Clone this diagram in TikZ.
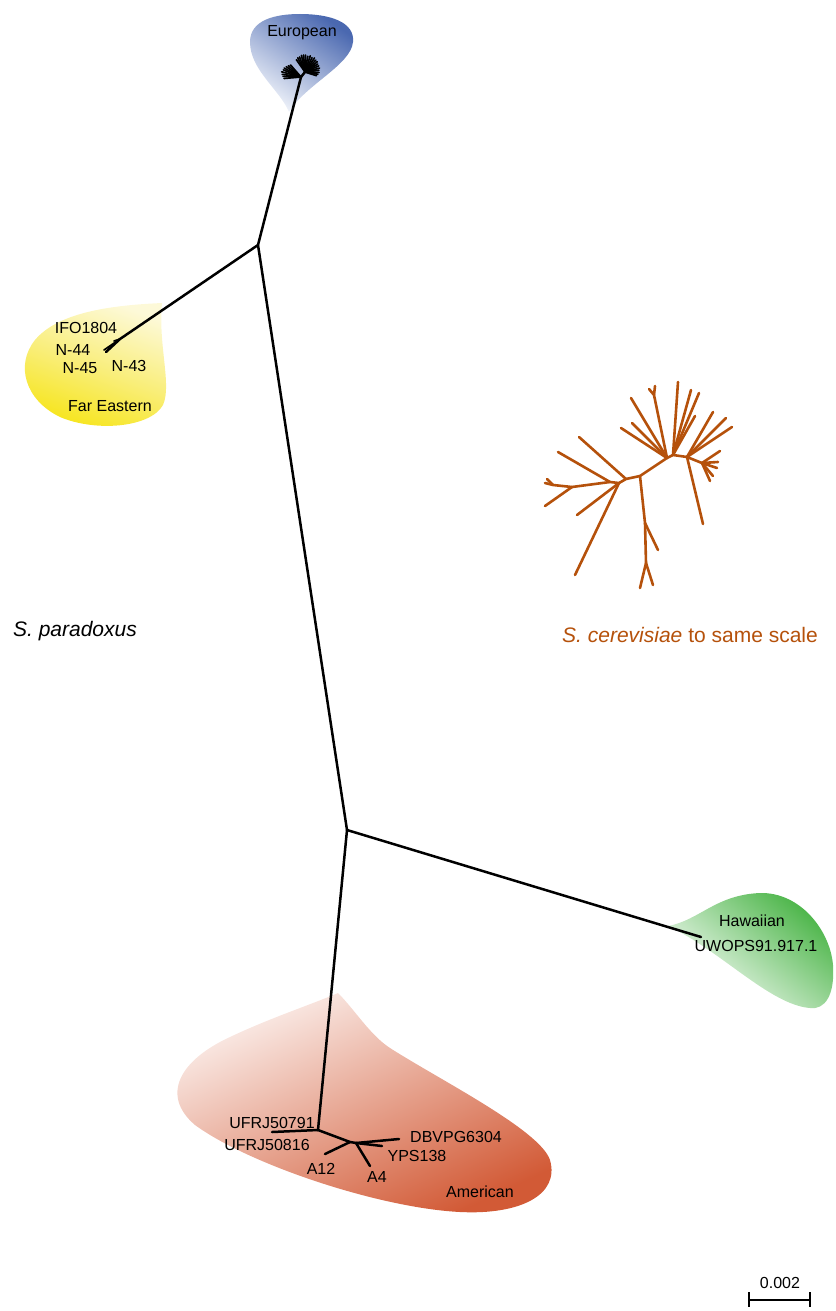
\documentclass[tikz,border=0pt]{standalone}
\usepackage{fontspec}
\setmainfont{Liberation Sans}
\definecolor{eurdark}{HTML}{4A68B0}
\definecolor{eurlight}{HTML}{F2F5FB}
\definecolor{feyellow}{HTML}{F6E412}
\definecolor{femid}{HTML}{F9EE7A}
\definecolor{felight}{HTML}{FDF9D8}
\definecolor{hawgreen}{HTML}{49B446}
\definecolor{amdark}{HTML}{D25A36}
\definecolor{amlight}{HTML}{FCF2EF}
\definecolor{cerorange}{HTML}{B5510B}
\begin{document}
\begin{tikzpicture}[x=1pt,y=-1pt,
  branch/.style={line width=2.5pt, line cap=round},
  thinbranch/.style={line width=1.7pt, line cap=round},
  cer/.style={line width=2.6pt, line cap=round, draw=cerorange},
  lab/.style={inner sep=0pt, font=\fontsize{16}{19}\selectfont},
  big/.style={inner sep=0pt, font=\fontsize{21}{25}\selectfont}]
\useasboundingbox (0,0) rectangle (835,1311);

% ---------- clade blobs ----------
\shade[top color=eurdark, bottom color=eurlight, shading angle=-35]
  (289,112) .. controls (280,90) and (250,70) .. (250,42)
  .. controls (250,20) and (275,14) .. (300,14)
  .. controls (330,14) and (355,22) .. (353,42)
  .. controls (351,65) and (305,85) .. (289,112) -- cycle;
\shade[top color=felight, bottom color=feyellow, middle color=femid, shading angle=-20]
  (162,303) .. controls (120,305) and (60,310) .. (35,340)
  .. controls (15,365) and (25,400) .. (60,417)
  .. controls (95,432) and (150,428) .. (163,405)
  .. controls (172,385) and (158,345) .. (162,303) -- cycle;
\shade[top color=hawgreen, bottom color=white, shading angle=-40]
  (668,926) .. controls (700,920) and (715,895) .. (760,893)
  .. controls (800,892) and (830,930) .. (833,965)
  .. controls (835,995) and (825,1010) .. (810,1008)
  .. controls (770,1005) and (720,950) .. (668,926) -- cycle;
\shade[top color=amlight, bottom color=amdark, shading angle=25]
  (338,993) .. controls (355,1010) and (370,1035) .. (390,1048)
  .. controls (440,1080) and (540,1130) .. (550,1160)
  .. controls (560,1195) and (520,1215) .. (460,1212)
  .. controls (380,1208) and (250,1165) .. (195,1125)
  .. controls (160,1095) and (180,1060) .. (230,1037)
  .. controls (270,1018) and (310,1005) .. (338,993) -- cycle;

% ---------- S. paradoxus tree ----------
\coordinate (A) at (258,245);
\coordinate (B) at (347,830);
\coordinate (eur) at (301,77);
\coordinate (eurb) at (305,72);
\coordinate (fe1) at (120,339);
\coordinate (fetip) at (106,352);
\coordinate (fetipb) at (104,350);
\coordinate (fetick) at (114,341);
\coordinate (haw) at (701,937);
\coordinate (am) at (318,1130);
\coordinate (ufrj) at (272,1132);
\coordinate (am2) at (350,1142);
\coordinate (am3) at (356,1143);
\coordinate (a12) at (325,1154);
\coordinate (dbv) at (399,1139);
\coordinate (yps) at (382,1146);
\coordinate (a4) at (370,1166);

\draw[branch] (A) -- (eur);
\draw[branch] (A) -- (fe1);
\draw[branch] (fe1) -- (fetip);
\draw[thinbranch] (fe1) -- (fetipb);
\draw[thinbranch] (fe1) -- (fetick);
\draw[branch] (A) -- (B);
\draw[branch] (B) -- (haw);
\draw[branch] (B) -- (am);
\draw[branch] (am) -- (ufrj);
\draw[branch] (am) -- (am2);
\draw[branch] (am2) -- (a12);
\draw[branch] (am2) -- (am3);
\draw[branch] (am3) -- (dbv);
\draw[branch] (am3) -- (yps);
\draw[branch] (am3) -- (a4);

% European starburst
\draw[branch] (eur) -- (eurb);
\foreach \a/\l in {145/18,152/19,158/19,165/20,172/19,178/18,185/17,138/17,131/16}
  \draw[thinbranch] (eur) -- ++({360-\a}:\l);
\foreach \a/\l in {125/15,117/16,110/16,102/17,95/17,88/17,80/16,72/17,64/16,56/17,48/16,40/16,32/15,24/15,15/15,7/14,358/14,350/13,342/12}
  \draw[thinbranch] (eurb) -- ++({360-\a}:\l);

% ---------- S. cerevisiae tree ----------
\coordinate (cA) at (619,483);
\coordinate (c0) at (626,479);
\coordinate (c1) at (640,476);
\coordinate (c2) at (667,458);
\coordinate (c3) at (673,455);
\coordinate (c4) at (687,457);
\coordinate (c5) at (702,463);
\coordinate (cL1) at (610,482);
\coordinate (cL2) at (572,487);
\coordinate (cLf) at (553,485);
\coordinate (l1a) at (545,483);
\coordinate (l1b) at (547,479);
\coordinate (l2) at (545,506);
\coordinate (l3) at (558,452);
\coordinate (l4) at (579,437);
\coordinate (l5) at (577,515);
\coordinate (l6) at (575,575);
\coordinate (cv1) at (645,523);
\coordinate (cv2) at (646,563);
\coordinate (l7) at (658,550);
\coordinate (l8) at (640,588);
\coordinate (l9) at (653,585);
\coordinate (l10) at (621,428);
\coordinate (l11) at (632,423);
\coordinate (l12) at (631,398);
\coordinate (cf) at (654,395);
\coordinate (l13) at (649,389);
\coordinate (l14) at (655,386);
\coordinate (l15) at (678,382);
\coordinate (l16) at (691,390);
\coordinate (l17) at (699,393);
\coordinate (l18) at (695,416);
\coordinate (l19) at (713,412);
\coordinate (l20) at (726,418);
\coordinate (l21) at (732,427);
\coordinate (l22) at (703,524);
\coordinate (l23) at (720,451);
\coordinate (l24) at (718,462);
\coordinate (l25) at (717,468);
\coordinate (l26) at (713,476);
\coordinate (l27) at (710,481);

\draw[cer] (cL2) -- (cL1) -- (cA) -- (c0) -- (c1) -- (c2) -- (c3) -- (c4) -- (c5);
\draw[cer] (cL2) -- (cLf) -- (l1a);
\draw[cer] (cLf) -- (l1b);
\draw[cer] (cL2) -- (l2);
\draw[cer] (cL1) -- (l3);
\draw[cer] (c0) -- (l4);
\draw[cer] (cA) -- (l5);
\draw[cer] (cA) -- (l6);
\draw[cer] (c1) -- (cv1) -- (cv2) -- (l8);
\draw[cer] (cv2) -- (l9);
\draw[cer] (cv1) -- (l7);
\draw[cer] (c2) -- (l10);
\draw[cer] (c2) -- (l11);
\draw[cer] (c2) -- (l12);
\draw[cer] (c2) -- (cf) -- (l13);
\draw[cer] (cf) -- (l14);
\draw[cer] (c3) -- (l15);
\draw[cer] (c3) -- (l16);
\draw[cer] (c3) -- (l17);
\draw[cer] (c3) -- (l18);
\draw[cer] (c4) -- (l19);
\draw[cer] (c4) -- (l20);
\draw[cer] (c4) -- (l21);
\draw[cer] (c4) -- (l22);
\draw[cer] (c5) -- (l23);
\draw[cer] (c5) -- (l24);
\draw[cer] (c5) -- (l25);
\draw[cer] (c5) -- (l26);
\draw[cer] (c5) -- (l27);

% ---------- labels ----------
\node[lab] (eurlab) at (302,33) {European};
\node[lab] (ifo) at (86,328) {IFO1804};
\node[lab] (n44) at (73,350) {N-44};
\node[lab] (n45) at (80,368) {N-45};
\node[lab] (n43) at (129,366) {N-43};
\node[lab] (felab) at (110,406) {Far Eastern};
\node[lab] (hawlab) at (752,921) {Hawaiian};
\node[lab] (uwops) at (756,946) {UWOPS91.917.1};
\node[lab] (u791) at (272,1123) {UFRJ50791};
\node[lab] (u816) at (267,1145) {UFRJ50816};
\node[lab] (dbvlab) at (456,1137) {DBVPG6304};
\node[lab] (ypslab) at (417,1156) {YPS138};
\node[lab] (a12lab) at (321,1169) {A12};
\node[lab] (a4lab) at (377,1177) {A4};
\node[lab] (amlab) at (480,1192) {American};
\node[big] (spar) at (75,631) {\itshape S. paradoxus};
\node[big, text=cerorange] (scer) at (690,635) {\itshape S. cerevisiae\/\upshape{} to same scale};

% ---------- scale bar ----------
\coordinate (sb1) at (749,1300);
\coordinate (sb2) at (810,1300);
\coordinate (sb1t) at (749,1292);
\coordinate (sb1b) at (749,1307);
\coordinate (sb2t) at (810,1292);
\coordinate (sb2b) at (810,1307);
\draw[line width=2.2pt] (sb1) -- (sb2);
\draw[line width=2.2pt] (sb1t) -- (sb1b);
\draw[line width=2.2pt] (sb2t) -- (sb2b);
\node[lab] (sblab) at (780,1283) {0.002};
\end{tikzpicture}
\end{document}
